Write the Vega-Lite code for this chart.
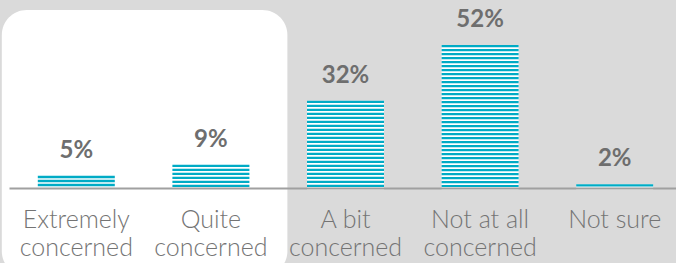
{
  "$schema": "https://vega.github.io/schema/vega-lite/v6.json",
  "width": 673,
  "height": 177,
  "autosize": "none",
  "padding": {"left": 9, "top": 10, "right": 0, "bottom": 76},
  "background": "#dadada",
  "config": {"view": {"stroke": null}},
  "datasets": {
    "bars": [
      {"cat": "Extremely concerned", "pct": 5, "label": "5%"},
      {"cat": "Quite concerned", "pct": 9, "label": "9%"},
      {"cat": "A bit concerned", "pct": 32, "label": "32%"},
      {"cat": "Not at all concerned", "pct": 52, "label": "52%"},
      {"cat": "Not sure", "pct": 2, "label": "2%"}
    ],
    "box": [{"from": "Extremely concerned", "to": "Quite concerned"}]
  },
  "layer": [
    {
      "data": {"name": "box"},
      "mark": {"type": "rect", "fill": "white", "cornerRadius": 25, "xOffset": -36, "x2Offset": 38},
      "encoding": {
        "x": {"field": "from", "type": "nominal", "bandPosition": 0,
          "scale": {"domain": ["Extremely concerned", "Quite concerned", "A bit concerned", "Not at all concerned", "Not sure"], "paddingInner": 0.428, "paddingOuter": 0.214},
          "axis": {"title": null, "labelAngle": 0, "ticks": false, "domainColor": "#a0a0a0", "domainWidth": 2, "offset": 1,
            "labelFont": "Lato", "labelFontSize": 25, "labelFontWeight": 300, "labelColor": "#747474",
            "labelPadding": 19, "labelLineHeight": 28, "labelLimit": 0,
            "labelExpr": "datum.label == 'Not sure' ? 'Not sure' : [replace(datum.label, ' concerned', ''), 'concerned']"}},
        "x2": {"field": "to", "bandPosition": 1},
        "y": {"datum": 64.55, "type": "quantitative", "scale": {"domain": [1, 64.55], "zero": false, "nice": false}, "axis": null},
        "y2": {"datum": -31}
      }
    },
    {
      "data": {"name": "bars"},
      "mark": {"type": "bar", "fill": "white"},
      "encoding": {
        "x": {"field": "cat", "type": "nominal"},
        "y": {"field": "pct", "type": "quantitative"}
      }
    },
    {
      "data": {"name": "bars"},
      "mark": {"type": "rule", "strokeWidth": 77, "strokeDash": [2.4, 1.6], "color": "#00abc5"},
      "encoding": {
        "x": {"field": "cat", "type": "nominal", "bandPosition": 0.5},
        "y": {"field": "pct", "type": "quantitative"},
        "y2": {"datum": 1}
      }
    },
    {
      "data": {"name": "bars"},
      "mark": {"type": "text", "dy": -18, "baseline": "alphabetic", "font": "Lato", "fontSize": 24, "fontWeight": "bold", "color": "#6e6e6e"},
      "encoding": {
        "x": {"field": "cat", "type": "nominal", "bandPosition": 0.5},
        "y": {"field": "pct", "type": "quantitative"},
        "text": {"field": "label"}
      }
    }
  ]
}
